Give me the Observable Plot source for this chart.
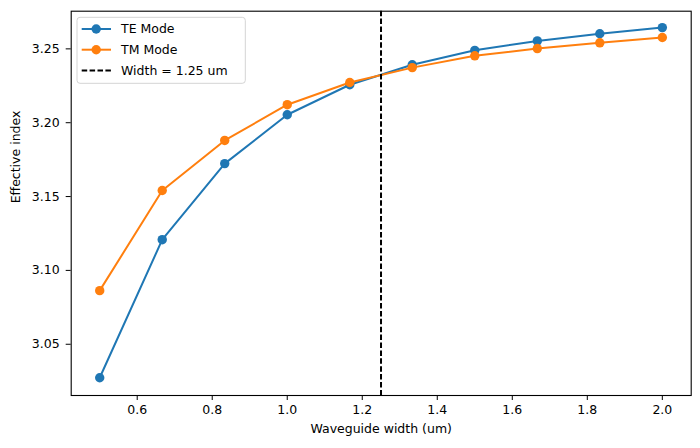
<!DOCTYPE html>
<html>
<head>
<meta charset="utf-8">
<script src="https://cdn.jsdelivr.net/npm/d3@7"></script>
<script src="https://cdn.jsdelivr.net/npm/@observablehq/plot@0.6"></script>
<style>
  html, body { margin: 0; padding: 0; background: #fff; }
  #chart { position: relative; width: 700px; height: 448px; }
  svg { font-family: "DejaVu Sans", sans-serif; }
</style>
</head>
<body>
<div id="chart"></div>
<script>
// Waveguide widths (um) and effective indices of the two fundamental modes
const widths = [0.5, 0.6667, 0.8333, 1.0, 1.1667, 1.3333, 1.5, 1.6667, 1.8333, 2.0];
const teIndex = [3.0273, 3.1208, 3.1723, 3.2054, 3.2257, 3.2392, 3.2490, 3.2554, 3.2602, 3.2644];
const tmIndex = [3.0863, 3.1541, 3.1880, 3.2122, 3.2272, 3.2373, 3.2453, 3.2502, 3.2541, 3.2577];
const chosenWidth = 1.25;
const xTicks = [0.6, 0.8, 1.0, 1.2, 1.4, 1.6, 1.8, 2.0];
const yTicks = [3.05, 3.10, 3.15, 3.20, 3.25];

const teColor = "#1f77b4";
const tmColor = "#ff7f0e";
const fontSize = 12.5;
const dotR = 4.7;

const te = widths.map((w, i) => ({w, n: teIndex[i]}));
const tm = widths.map((w, i) => ({w, n: tmIndex[i]}));

const plot = Plot.plot({
  width: 700,
  height: 448,
  marginLeft: 70.7,
  marginRight: 9.3,
  marginTop: 10.7,
  marginBottom: 53,
  style: {fontFamily: "DejaVu Sans, sans-serif", fontSize: fontSize + "px", color: "#000", background: "#fff"},
  x: {domain: [0.424, 2.077]},
  y: {domain: [3.0153, 3.2755]},
  marks: [
    Plot.axisX({ticks: xTicks, tickFormat: d3.format(".1f"), tickSize: 5, tickPadding: 5, label: null, fontSize, stroke: "#000"}),
    Plot.axisY({ticks: yTicks, tickFormat: d3.format(".2f"), tickSize: 5, tickPadding: 6.5, label: null, fontSize, stroke: "#000"}),
    Plot.text(["Waveguide width (um)"], {frameAnchor: "bottom", dy: 37.5, fontSize, fill: "#000"}),
    Plot.text(["Effective index"], {frameAnchor: "left", dx: -55, rotate: -90, fontSize, fill: "#000"}),
    Plot.line(te, {x: "w", y: "n", stroke: teColor, strokeWidth: 2}),
    Plot.dot(te, {x: "w", y: "n", fill: teColor, r: dotR}),
    Plot.line(tm, {x: "w", y: "n", stroke: tmColor, strokeWidth: 2}),
    Plot.dot(tm, {x: "w", y: "n", fill: tmColor, r: dotR}),
    Plot.ruleX([chosenWidth], {stroke: "#000", strokeWidth: 2, strokeDasharray: "5.5,2.4"}),
    Plot.frame({stroke: "#000", strokeWidth: 1.1})
  ]
});

document.getElementById("chart").appendChild(plot);

// Legend box in the upper-left corner of the axes
const entries = [
  {label: "TE Mode", color: teColor, dash: null, marker: true},
  {label: "TM Mode", color: tmColor, dash: null, marker: true},
  {label: "Width = 1.25 um", color: "#000", dash: "5.5,2.4", marker: false}
];
const svg = d3.select(plot);
const lg = svg.append("g")
  .attr("transform", "translate(77,17.3)")
  .attr("text-anchor", "start");
lg.append("rect")
  .attr("width", 168.3).attr("height", 66).attr("rx", 3)
  .attr("fill", "#fff").attr("fill-opacity", 0.8)
  .attr("stroke", "#d4d4d4").attr("stroke-width", 1);
entries.forEach((e, i) => {
  const cy = 11.7 + i * 20.7;
  lg.append("line")
    .attr("x1", 4.7).attr("x2", 34).attr("y1", cy).attr("y2", cy)
    .attr("stroke", e.color).attr("stroke-width", 2)
    .attr("stroke-dasharray", e.dash);
  if (e.marker) {
    lg.append("circle").attr("cx", 19.2).attr("cy", cy).attr("r", dotR).attr("fill", e.color);
  }
  lg.append("text")
    .attr("x", 44).attr("y", cy).attr("dy", "0.36em")
    .attr("text-anchor", "start")
    .attr("font-size", fontSize).attr("fill", "#000")
    .text(e.label);
});
</script>
</body>
</html>
